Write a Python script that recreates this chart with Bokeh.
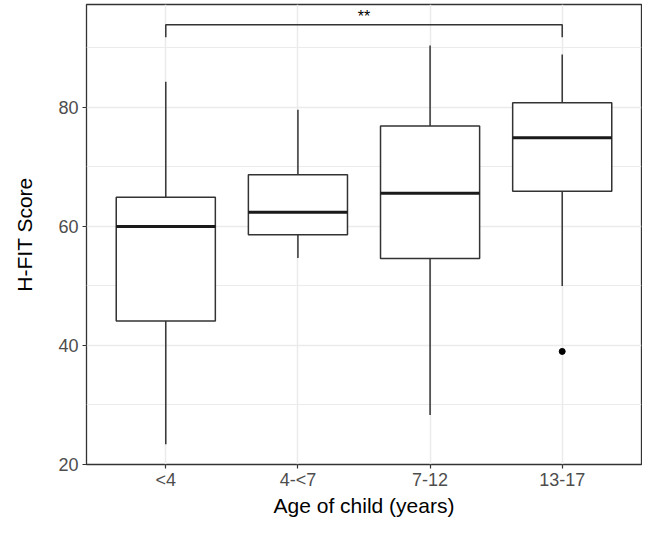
from bokeh.plotting import figure
from bokeh.models import Range1d, FixedTicker
from bokeh.core.properties import value
from bokeh.embed import file_html
from bokeh.resources import INLINE

# ---- data ----
categories = ["<4", "4-<7", "7-12", "13-17"]
whisker_low = [23.4, 54.7, 28.3, 50.0]
q1 = [44.1, 58.6, 54.6, 65.9]
median = [60.0, 62.4, 65.6, 74.9]
q3 = [64.9, 68.7, 76.9, 80.8]
whisker_high = [84.3, 79.6, 90.4, 88.9]
outlier_group = ["13-17"]
outlier_value = [39.0]
y_ticks = [20, 40, 60, 80]
y_minor_ticks = [30, 50, 70, 90]
signif_pair = ["<4", "13-17"]
signif_label = "**"
signif_y = 93.9
signif_tip = 91.8
signif_text_y = 95.2

FONT = "Liberation Sans"
DARK = "#333333"
GRID = "#EBEBEB"
BOX_W = 0.75

pos = {c: i + 1 for i, c in enumerate(categories)}
xs = [pos[c] for c in categories]

p = figure(width=642, height=519, output_backend="svg", toolbar_location=None,
           x_range=Range1d(0.4, 4.6), y_range=Range1d(20, 97.3),
           min_border_left=86, min_border_right=1, min_border_top=4,
           background_fill_color="white", border_fill_color="white")

# grid
p.xaxis.ticker = FixedTicker(ticks=xs)
p.xaxis.major_label_overrides = {x: c for x, c in zip(xs, categories)}
p.yaxis.ticker = FixedTicker(ticks=y_ticks, minor_ticks=y_minor_ticks)
p.xgrid.grid_line_color = GRID
p.xgrid.grid_line_width = 1.5
p.ygrid.grid_line_color = GRID
p.ygrid.grid_line_width = 1.5
p.ygrid.minor_grid_line_color = GRID
p.ygrid.minor_grid_line_width = 1.0

# outline as panel border
p.outline_line_color = DARK
p.outline_line_width = 1.3
p.outline_line_alpha = 1.0

for ax in (p.xaxis[0], p.yaxis[0]):
    ax.axis_line_color = None
    ax.major_tick_line_color = DARK
    ax.major_tick_line_width = 1.2
    ax.major_tick_out = 4
    ax.major_tick_in = 0
    ax.minor_tick_line_color = None
    ax.major_label_text_font = FONT
    ax.major_label_text_font_size = "18px"
    ax.major_label_text_color = "#4D4D4D"
    ax.axis_label_text_font = FONT
    ax.axis_label_text_font_size = "21px"
    ax.axis_label_text_font_style = "normal"
    ax.axis_label_text_color = "black"

p.xaxis.axis_label = "Age of child (years)"
p.yaxis.axis_label = "H-FIT Score"
p.yaxis.major_label_standoff = 4
p.yaxis.axis_label_standoff = 19
p.xaxis.major_label_standoff = 1
p.xaxis.axis_label_standoff = 1

# whiskers
p.segment(x0=xs, y0=q3, x1=xs, y1=whisker_high, line_color=DARK, line_width=1.5)
p.segment(x0=xs, y0=q1, x1=xs, y1=whisker_low, line_color=DARK, line_width=1.5)

# boxes
p.vbar(x=xs, bottom=q1, top=q3, width=BOX_W, fill_color="white",
       line_color=DARK, line_width=1.5)

# medians
p.segment(x0=[x - BOX_W / 2 for x in xs], y0=median,
          x1=[x + BOX_W / 2 for x in xs], y1=median,
          line_color="#1a1a1a", line_width=3)

# outliers
p.scatter(x=[pos[g] for g in outlier_group], y=outlier_value, size=6,
          fill_color="black", line_color="black")

# significance bracket
xa, xb = pos[signif_pair[0]], pos[signif_pair[1]]
p.line(x=[xa, xa, xb, xb], y=[signif_tip, signif_y, signif_y, signif_tip],
       line_color=DARK, line_width=1.5)
p.text(x=[(xa + xb) / 2], y=[signif_text_y], text=[signif_label],
       text_align="center", text_baseline="middle",
       text_font=value(FONT), text_font_size="16px", text_color="black")

open("out.html", "w").write(file_html(p, INLINE))
